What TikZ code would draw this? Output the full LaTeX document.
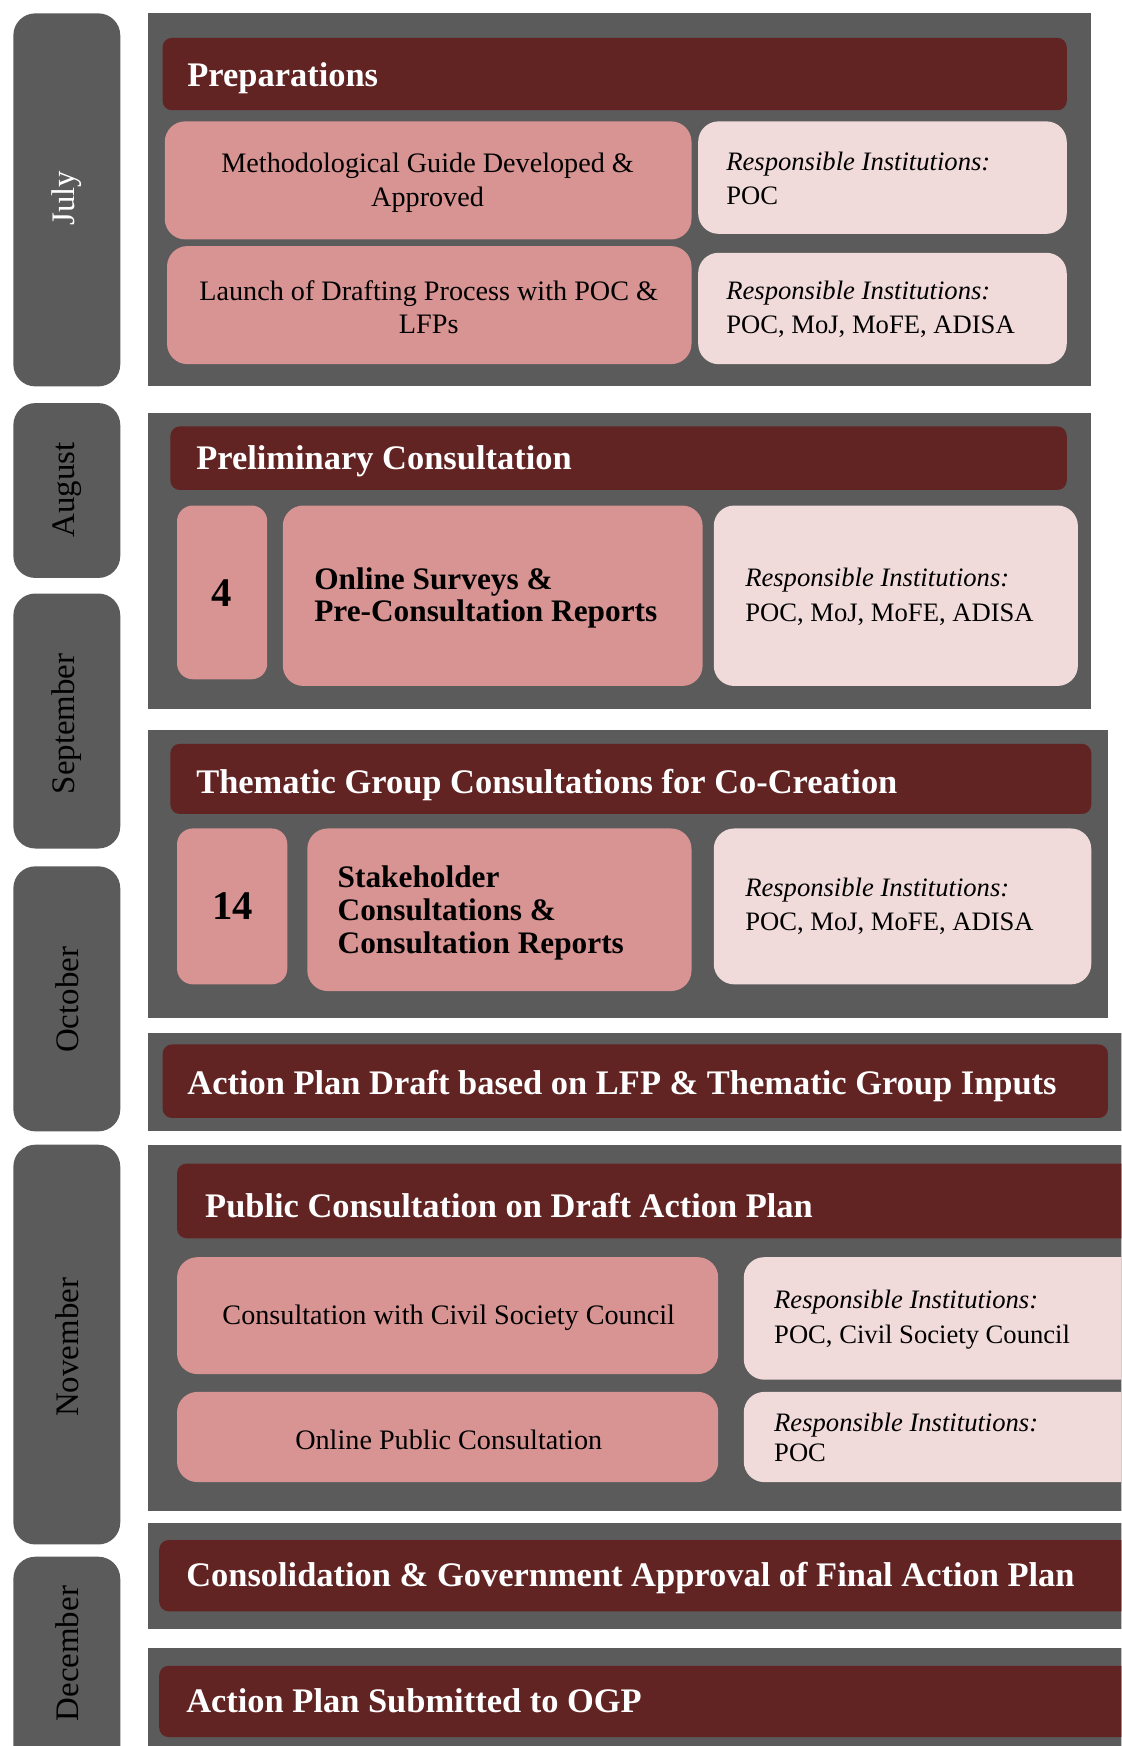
\documentclass[tikz,border=0pt]{standalone}
\usepackage{fontspec}
\setmainfont{Liberation Serif}
\definecolor{panelgray}{HTML}{5B5B5B}
\definecolor{darkred}{HTML}{622323}
\definecolor{rosebox}{HTML}{D89393}
\definecolor{palebox}{HTML}{F0DADA}
\begin{document}
\begin{tikzpicture}[x=0.025cm,y=-0.025cm,
  pill/.style={fill=panelgray,rounded corners=14pt},
  panel/.style={fill=panelgray},
  hdr/.style={fill=darkred,rounded corners=6pt},
  task/.style={fill=rosebox,rounded corners=13pt},
  resp/.style={fill=palebox,rounded corners=13pt},
  month/.style={rotate=90,inner sep=0pt,font=\fontsize{21}{24}\selectfont},
  hdrtxt/.style={anchor=west,inner sep=0pt,text=white,font=\fontsize{22}{26}\selectfont\bfseries},
  tasktxt/.style={inner sep=0pt,align=center,font=\fontsize{18}{21.5}\selectfont},
  boldtxt/.style={anchor=west,inner sep=0pt,align=left,font=\fontsize{20}{21}\selectfont\bfseries},
  numtxt/.style={inner sep=0pt,font=\fontsize{26}{30}\selectfont\bfseries},
  resptxt/.style={anchor=west,inner sep=0pt,align=left,font=\fontsize{17}{22}\selectfont}]
\useasboundingbox (0,0) rectangle (1007,1568);
\clip (0,0) rectangle (1007,1568);

% months
\fill[pill] (12,12) rectangle (108,347);
\fill[pill] (12,362) rectangle (108,519);
\fill[pill] (12,533) rectangle (108,762);
\fill[pill] (12,778) rectangle (108,1016);
\fill[pill] (12,1028) rectangle (108,1387);
\fill[pill] (12,1398) rectangle (108,1620);
\node[month,text=white] (jul) at (60,178) {July};
\node[month] (aug) at (60,440) {August};
\node[month] (sep) at (60,650) {September};
\node[month] (oct) at (60,898) {October};
\node[month] (nov) at (60,1210) {November};
\node[month] (dec) at (60,1485) {December};

% preparations
\fill[panel] (133,12) rectangle (980,347);
\fill[hdr] (146,34) rectangle (958,99);
\node[hdrtxt] (prep) at (168,70) {Preparations};
\fill[task] (148,109) rectangle (621,215);
\node[tasktxt] (guide) at (384,164) {Methodological Guide Developed \&\\Approved};
\fill[resp] (627,109) rectangle (958,210);
\node[resptxt] (guideresp) at (652,160) {\textit{Responsible Institutions:}\\POC};
\fill[task] (150,221) rectangle (621,327);
\node[tasktxt] (launch) at (385,276) {Launch of Drafting Process with POC \&\\LFPs};
\fill[resp] (627,227) rectangle (958,327);
\node[resptxt] (launchresp) at (652,278) {\textit{Responsible Institutions:}\\POC, MoJ, MoFE, ADISA};

% preliminary consultation
\fill[panel] (133,371) rectangle (980,637);
\fill[hdr] (153,383) rectangle (958,440);
\node[hdrtxt] (prelim) at (176,414) {Preliminary Consultation};
\fill[task,rounded corners=10pt] (159,454) rectangle (240,610);
\node[numtxt] (four) at (199,533) {4};
\fill[task] (254,454) rectangle (631,616);
\node[boldtxt] (survey) at (282,537) {Online Surveys \&\\Pre-Consultation Reports};
\fill[resp] (641,454) rectangle (968,616);
\node[resptxt] (surveyresp) at (669,536) {\textit{Responsible Institutions:}\\POC, MoJ, MoFE, ADISA};

% thematic groups
\fill[panel] (133,656) rectangle (995,914);
\fill[hdr] (153,668) rectangle (980,731);
\node[hdrtxt] (thematic) at (176,705) {Thematic Group Consultations for Co-Creation};
\fill[task,rounded corners=10pt] (159,744) rectangle (258,884);
\node[numtxt] (fourteen) at (209,814) {14};
\fill[task] (276,744) rectangle (621,890);
\node[boldtxt] (stake) at (303,820) {Stakeholder\\Consultations \&\\Consultation Reports};
\fill[resp] (641,744) rectangle (980,884);
\node[resptxt] (stakeresp) at (669,814) {\textit{Responsible Institutions:}\\POC, MoJ, MoFE, ADISA};

% draft
\fill[panel] (133,928) rectangle (1030,1016);
\fill[hdr] (146,938) rectangle (995,1004);
\node[hdrtxt] (draft) at (168,975) {Action Plan Draft based on LFP \& Thematic Group Inputs};

% public consultation
\fill[panel] (133,1028) rectangle (1030,1357);
\fill[hdr] (159,1045) rectangle (1030,1112);
\node[hdrtxt] (public) at (184,1083) {Public Consultation on Draft Action Plan};
\fill[task] (159,1129) rectangle (645,1234);
\node[tasktxt] (council) at (403,1183) {Consultation with Civil Society Council};
\fill[resp] (668,1129) rectangle (1030,1239);
\node[resptxt] (councilresp) at (695,1185) {\textit{Responsible Institutions:}\\POC, Civil Society Council};
\fill[task] (159,1250) rectangle (645,1331);
\node[tasktxt] (online) at (403,1293) {Online Public Consultation};
\fill[resp] (668,1250) rectangle (1030,1331);
\node[resptxt,font=\fontsize{17}{19}\selectfont] (onlineresp) at (695,1291) {\textit{Responsible Institutions:}\\POC};

% approval and submission
\fill[panel] (133,1368) rectangle (1030,1463);
\fill[hdr] (143,1383) rectangle (1030,1447);
\node[hdrtxt] (approval) at (167,1417) {Consolidation \& Government Approval of Final Action Plan};
\fill[panel] (133,1480) rectangle (1030,1620);
\fill[hdr] (143,1496) rectangle (1030,1560);
\node[hdrtxt] (submit) at (167,1527) {Action Plan Submitted to OGP};
\end{tikzpicture}
\end{document}
